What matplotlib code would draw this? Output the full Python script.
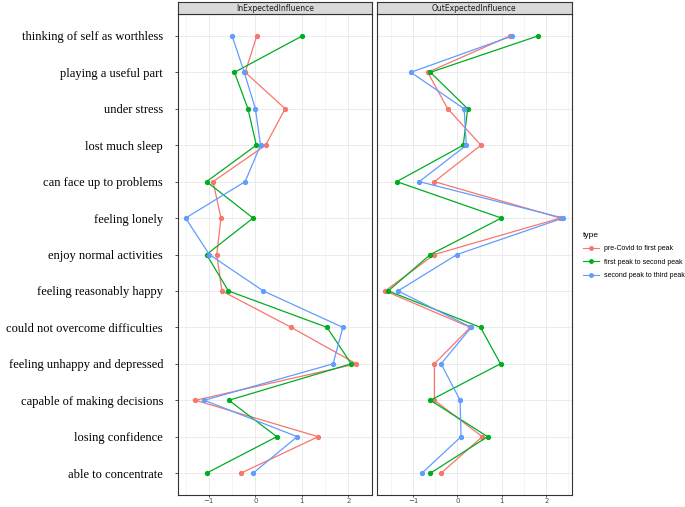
import matplotlib
matplotlib.use("Agg")
import matplotlib.pyplot as plt
from matplotlib.lines import Line2D

items = ["thinking of self as worthless", "playing a useful part", "under stress",
         "lost much sleep", "can face up to problems", "feeling lonely",
         "enjoy normal activities", "feeling reasonably happy",
         "could not overcome difficulties", "feeling unhappy and depressed",
         "capable of making decisions", "losing confidence", "able to concentrate"]
types = ["pre-Covid to first peak", "first peak to second peak", "second peak to third peak"]
colors = ["#F8766D", "#00AD22", "#619CFF"]

# InExpectedInfluence
in_pre = [0.03, -0.22, 0.64, 0.22, -0.91, -0.74, -0.83, -0.72, 0.77, 2.17, -1.29, 1.35, -0.31]
in_first = [1.01, -0.45, -0.16, 0.02, -1.05, -0.05, -1.05, -0.58, 1.54, 2.06, -0.57, 0.46, -1.05]
in_second = [-0.50, -0.24, 0.00, 0.11, -0.22, -1.50, -0.99, 0.17, 1.88, 1.67, -1.10, 0.90, -0.05]

# OutExpectedInfluence
out_pre = [1.19, -0.67, -0.22, 0.53, -0.52, 2.32, -0.52, -1.63, 0.29, -0.52, -0.52, 0.56, -0.37]
out_first = [1.82, -0.61, 0.23, 0.13, -1.37, 0.99, -0.61, -1.56, 0.52, 0.97, -0.61, 0.68, -0.61]
out_second = [1.24, -1.05, 0.15, 0.20, -0.86, 2.38, -0.01, -1.34, 0.31, -0.37, 0.06, 0.08, -0.80]

panels = [("InExpectedInfluence", [in_pre, in_first, in_second], (-1.67, 2.35)),
          ("OutExpectedInfluence", [out_pre, out_first, out_second], (-1.82, 2.57))]

fig = plt.figure(figsize=(6.85, 5.07), dpi=100)
W, H = 685, 507
lefts = [177.7, 376.7]
rights = [371.7, 571.5]
top, bottom = 14, 495
ypos = list(range(len(items), 0, -1))

for k, (name, series, xl) in enumerate(panels):
    ax = fig.add_axes([lefts[k] / W, 1 - bottom / H, (rights[k] - lefts[k]) / W, (bottom - top) / H])
    ax.set_xlim(*xl)
    ax.set_ylim(0.4, len(items) + 0.6)
    ax.set_xticks([-1, 0, 1, 2])
    ax.set_xticks([-1.5, -0.5, 0.5, 1.5, 2.5], minor=True)
    ax.set_yticks(ypos)
    ax.grid(True, which="major", color="#EBEBEB", lw=0.7)
    ax.grid(True, which="minor", axis="x", color="#F2F2F2", lw=0.5)
    ax.set_axisbelow(True)
    for s in ax.spines.values():
        s.set_color("#333333")
        s.set_linewidth(0.8)
    ax.tick_params(axis="x", which="major", length=1.5, width=0.6, color="#333333",
                   labelsize=5, labelcolor="#4D4D4D", pad=0.6)
    ax.tick_params(which="minor", length=0)
    if k == 0:
        ax.set_yticklabels(items, family="Liberation Serif", fontsize=9)
        ax.tick_params(axis="y", length=2.5, width=0.6, color="#333333", pad=8)
    else:
        ax.set_yticklabels([])
        ax.tick_params(axis="y", length=0)
    for vals, c in zip(series, colors):
        ax.plot(vals, ypos, color=c, lw=0.9, marker="o", ms=2.8)

    strip = fig.add_axes([lefts[k] / W, 1 - top / H, (rights[k] - lefts[k]) / W, 12 / H])
    strip.set_facecolor("#D9D9D9")
    strip.set_xticks([])
    strip.set_yticks([])
    for s in strip.spines.values():
        s.set_color("#333333")
        s.set_linewidth(0.8)
    strip.text(0.5, 0.45, name, ha="center", va="center", fontsize=5.5,
               color="#1A1A1A", transform=strip.transAxes)

handles = [Line2D([], [], color=c, lw=0.8, marker="o", ms=2.5) for c in colors]
leg = fig.legend(handles, types, title="type", loc="upper left",
                 bbox_to_anchor=(577 / W, 1 - 226 / H), frameon=False,
                 prop={"family": "Liberation Sans", "size": 5},
                 title_fontproperties={"family": "Liberation Sans", "size": 6},
                 handlelength=2.2, labelspacing=0.9, alignment="left")

fig.savefig("out.png", dpi=100)
